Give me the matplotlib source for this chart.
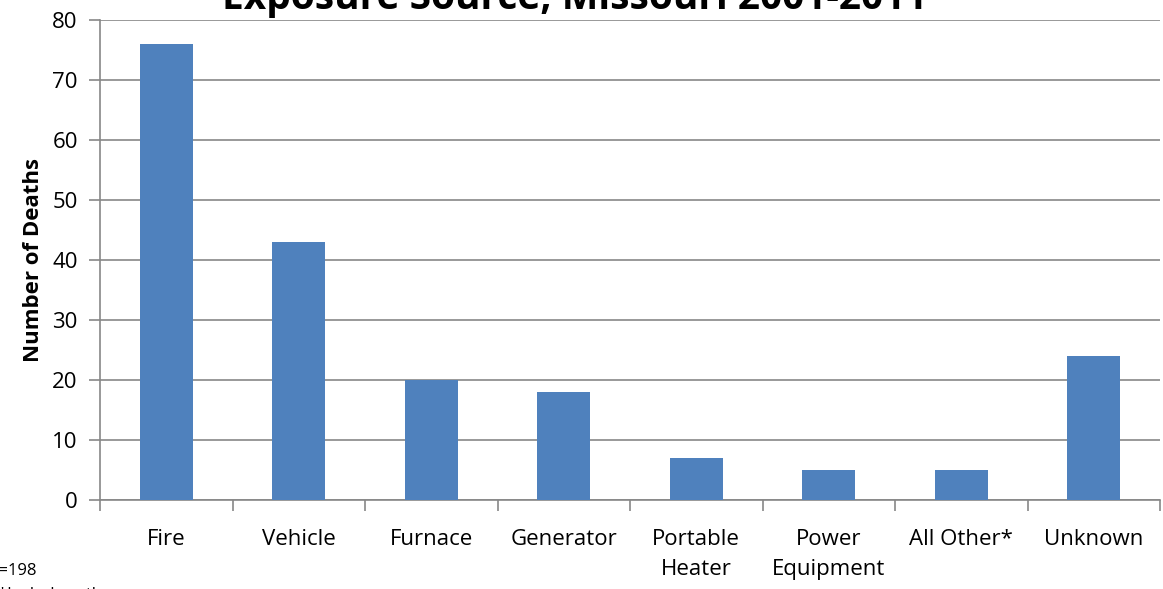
import matplotlib
matplotlib.use("Agg")
import matplotlib.pyplot as plt
import numpy as np

categories = ["Fire", "Vehicle", "Furnace", "Generator", "Portable\nHeater",
              "Power\nEquipment", "All Other*", "Unknown"]
deaths = [76, 43, 20, 18, 7, 5, 5, 24]
yticks = [0, 10, 20, 30, 40, 50, 60, 70, 80]

plt.rcParams['font.family'] = ['Open Sans', 'DejaVu Sans']

W, H = 1163, 589
fig = plt.figure(figsize=(W/100, H/100), dpi=100)
ax = fig.add_axes([100/W, 1-500/H, 1060/W, 480/H])

x = np.arange(len(categories))
ax.bar(x, deaths, width=0.4, color="#4F81BD", zorder=3)
ax.set_xlim(-0.5, len(categories)-0.5)
ax.set_ylim(0, 80)
ax.set_yticks(yticks)
ax.set_yticklabels([str(v) for v in yticks], fontsize=16)
ax.yaxis.grid(True, color="#878787", linewidth=1.2, zorder=0)

ax.set_xticks(x)
ax.set_xticklabels(categories, fontsize=16, linespacing=1.55, va='top')
ax.tick_params(axis='x', which='major', length=0, pad=21)
ax.set_xticks(np.arange(-0.5, len(categories)), minor=True)
ax.tick_params(axis='x', which='minor', length=8, color="#878787", width=1.2)
ax.tick_params(axis='y', length=8, color="#878787", width=1.2, pad=8)

for s in ['top', 'right']:
    ax.spines[s].set_visible(False)
for s in ['left', 'bottom']:
    ax.spines[s].set_color("#878787")
    ax.spines[s].set_linewidth(1.2)

ax.set_ylabel("Number of Deaths", fontsize=16, fontweight='bold', labelpad=6)

fig.text(575/W, 1-9/H, "Carbon Monoxide Deaths by\nExposure Source, Missouri 2001-2011",
         ha='center', va='baseline', fontsize=28, fontweight='bold', linespacing=1.1)
fig.text(-14/W, 1-575/H, "N=198", ha='left', va='baseline', fontsize=12)
fig.text(-2/W, 1-599/H, "*Includes other sources", ha='left', va='baseline', fontsize=12)

fig.savefig("out.png", dpi=100)
